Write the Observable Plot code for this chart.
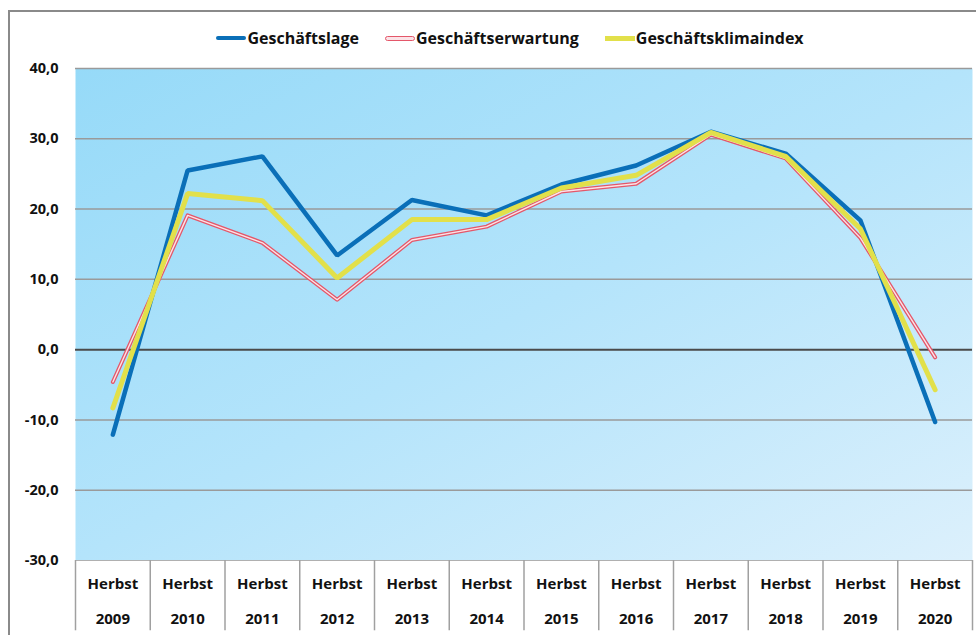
<!DOCTYPE html>
<html>
<head>
<meta charset="utf-8">
<script src="https://cdn.jsdelivr.net/npm/d3@7"></script>
<script src="https://cdn.jsdelivr.net/npm/@observablehq/plot@0.6"></script>
<style>
  html, body { margin: 0; padding: 0; background: #fff; }
  body { width: 976px; height: 635px; overflow: hidden; position: relative; font-family: "Open Sans", sans-serif; }
  #frame { position: absolute; left: 8px; top: 10px; width: 1000px; height: 700px; border-left: 2px solid #8a8a8a; border-top: 2px solid #8a8a8a; }
  #chart { position: absolute; left: 0; top: 0; }
  #legend { position: absolute; top: 27px; left: 0; width: 976px; display: flex; justify-content: center; gap: 26px; font-weight: 700; font-size: 16px; color: #111; padding-left: 44px; box-sizing: border-box; }
  .item { display: flex; align-items: center; }
  .sw { width: 30px; height: 4px; margin-right: 1px; box-sizing: border-box; }
</style>
</head>
<body>
<div id="frame"></div>
<div id="chart"></div>
<div id="legend"></div>
<script>
const years = [2009, 2010, 2011, 2012, 2013, 2014, 2015, 2016, 2017, 2018, 2019, 2020];
const geschaeftslage = [-12.1, 25.5, 27.5, 13.4, 21.3, 19.1, 23.5, 26.2, 31.0, 27.9, 18.4, -10.3];
const geschaeftserwartung = [-4.6, 19.1, 15.2, 7.1, 15.6, 17.5, 22.5, 23.6, 30.6, 27.2, 15.9, -1.1];
const geschaeftsklimaindex = [-8.3, 22.2, 21.2, 10.2, 18.5, 18.5, 23.0, 24.8, 30.9, 27.5, 17.2, -5.7];
const yTicks = [-30, -20, -10, 0, 10, 20, 30, 40];
const seriesNames = ["Geschäftslage", "Geschäftserwartung", "Geschäftsklimaindex"];
const periodLabel = "Herbst";

const blue = "#0a6fb8", red = "#e4576a", yellow = "#e2e04a";
const edges = [...years.map(y => y - 0.5), years[years.length - 1] + 0.5];
const yMin = yTicks[0], yStep = yTicks[1] - yTicks[0];

const font = "Open Sans, sans-serif";
const chart = Plot.plot({
  width: 976,
  height: 635,
  marginTop: 68,
  marginBottom: 75,
  marginLeft: 75,
  marginRight: 4,
  style: { fontFamily: font, background: "transparent" },
  x: { domain: [years[0] - 0.5, years[years.length - 1] + 0.5], axis: null },
  y: { domain: [yTicks[0], yTicks[yTicks.length - 1]], axis: null },
  marks: [
    Plot.frame({ fill: "url(#bgGrad)", stroke: null }),
    Plot.ruleY(yTicks.filter(t => t !== 0 && t !== yMin), { stroke: "#9a9a9a", strokeWidth: 1.5 }),
    Plot.ruleY([yMin], { stroke: "#b0b0b0", strokeWidth: 1 }),
    Plot.ruleY([0], { stroke: "#4a4a4a", strokeWidth: 2 }),
    Plot.axisY({ ticks: yTicks, tickSize: 0, tickPadding: 17, tickFormat: d => d.toFixed(1).replace(".", ","), fontSize: 14.5, fontWeight: 700, fill: "#111", label: null }),
    Plot.ruleX(edges, { x: d => d, y1: yMin, y2: yMin - yStep, stroke: "#a0a0a0", strokeWidth: 1.5 }),
    Plot.text(years, { x: d => d, text: () => periodLabel, frameAnchor: "bottom", dy: 28, fontSize: 15, fontWeight: 700, fill: "#111" }),
    Plot.text(years, { x: d => d, text: d => String(d), frameAnchor: "bottom", dy: 63, fontSize: 15, fontWeight: 700, fill: "#111" }),
    Plot.line(geschaeftserwartung, { x: (d, i) => years[i], y: d => d, stroke: red, strokeWidth: 4, strokeLinecap: "round", strokeLinejoin: "round" }),
    Plot.line(geschaeftserwartung, { x: (d, i) => years[i], y: d => d, stroke: "#fbe3e7", strokeWidth: 1.4, strokeLinecap: "round", strokeLinejoin: "round" }),
    Plot.line(geschaeftslage, { x: (d, i) => years[i], y: d => d, stroke: blue, strokeWidth: 4.5, strokeLinecap: "round", strokeLinejoin: "miter" }),
    Plot.line(geschaeftsklimaindex, { x: (d, i) => years[i], y: d => d, stroke: yellow, strokeWidth: 5, strokeLinecap: "round", strokeLinejoin: "miter" })
  ]
});

const svg = d3.select(chart);
const defs = svg.insert("defs", ":first-child");
const grad = defs.append("linearGradient").attr("id", "bgGrad").attr("x1", "0%").attr("y1", "0%").attr("x2", "100%").attr("y2", "100%");
grad.append("stop").attr("offset", "0%").attr("stop-color", "#96daf8");
grad.append("stop").attr("offset", "50%").attr("stop-color", "#b4e4fb");
grad.append("stop").attr("offset", "100%").attr("stop-color", "#dcf0fc");
document.getElementById("chart").appendChild(chart);

const legend = d3.select("#legend");
const swatches = [
  { name: seriesNames[0], style: `background:${blue};height:4px;border-radius:2px;` },
  { name: seriesNames[1], style: `background:#fbe3e7;border:1.5px solid ${red};height:5px;border-radius:3px;` },
  { name: seriesNames[2], style: `background:${yellow};height:5px;` }
];
swatches.forEach(s => {
  const it = legend.append("div").attr("class", "item");
  it.append("div").attr("class", "sw").attr("style", s.style);
  it.append("span").text(s.name);
});
</script>
</body>
</html>
